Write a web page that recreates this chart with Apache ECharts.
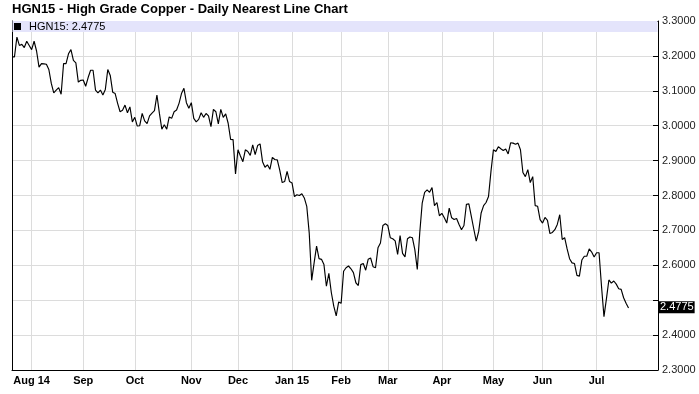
<!DOCTYPE html>
<html>
<head>
<meta charset="utf-8">
<script src="https://cdn.jsdelivr.net/npm/echarts@6/dist/echarts.min.js"></script>
<style>html,body{margin:0;padding:0;background:#fff}#c{width:699px;height:394px}</style>
</head>
<body>
<div id="c"></div>
<script>
const chartTitle = 'HGN15 - High Grade Copper - Daily Nearest Line Chart';
const seriesName = 'HGN15';
// Daily nearest close, one value per trading day from 2014-07-22 to 2015-07-21
const prices = [
  3.197,3.197,3.254,3.230,3.233,3.224,3.242,3.230,3.218,3.242,
  3.214,3.168,3.178,3.177,3.176,3.161,3.121,3.094,3.102,3.109,
  3.090,3.178,3.178,3.206,3.218,3.187,3.180,3.125,3.130,3.131,
  3.113,3.138,3.159,3.159,3.102,3.094,3.102,3.088,3.104,3.161,
  3.144,3.096,3.092,3.064,3.040,3.044,3.059,3.037,3.054,3.011,
  3.024,2.999,3.000,3.035,3.014,3.006,3.028,3.036,3.043,3.088,
  3.036,2.990,3.003,2.990,3.025,3.021,3.040,3.045,3.064,3.092,
  3.107,3.066,3.050,3.066,3.021,3.011,3.018,3.037,3.024,3.035,
  3.028,2.997,3.047,3.040,3.005,3.047,3.024,3.034,3.007,2.961,
  2.960,2.862,2.931,2.913,2.897,2.931,2.926,2.915,2.945,2.917,
  2.943,2.948,2.897,2.881,2.888,2.875,2.909,2.903,2.902,2.873,
  2.837,2.840,2.869,2.840,2.836,2.797,2.802,2.800,2.805,2.793,
  2.769,2.693,2.557,2.607,2.655,2.619,2.617,2.602,2.540,2.577,
  2.522,2.483,2.455,2.495,2.491,2.583,2.593,2.598,2.590,2.579,
  2.550,2.542,2.602,2.605,2.586,2.617,2.621,2.596,2.593,2.650,
  2.664,2.714,2.719,2.714,2.679,2.676,2.670,2.631,2.685,2.634,
  2.624,2.676,2.681,2.679,2.645,2.588,2.693,2.778,2.809,2.816,
  2.809,2.823,2.771,2.780,2.742,2.749,2.736,2.721,2.764,2.736,
  2.731,2.734,2.717,2.702,2.714,2.775,2.776,2.740,2.704,2.669,
  2.697,2.750,2.771,2.780,2.797,2.869,2.931,2.926,2.940,2.934,
  2.929,2.933,2.919,2.951,2.950,2.947,2.950,2.931,2.866,2.854,
  2.874,2.837,2.854,2.771,2.769,2.731,2.721,2.737,2.729,2.691,
  2.694,2.702,2.717,2.745,2.674,2.679,2.647,2.619,2.607,2.605,
  2.571,2.569,2.615,2.626,2.626,2.647,2.638,2.624,2.636,2.636,
  2.540,2.453,2.504,2.558,2.549,2.555,2.546,2.533,2.531,2.507,
  2.491,2.4775
];
const startDate = '2014-07-22';
const totalSessions = 264;
const holidays = ['2014-09-01','2014-11-27','2014-12-25','2015-01-01','2015-01-19','2015-02-16','2015-04-03','2015-05-25','2015-07-03'];
const monthTickLabels = ['Jan 15','Feb','Mar','Apr','May','Jun','Jul','Aug 14','Sep','Oct','Nov','Dec'];
const yTicks = {min: 2.3, max: 3.3, step: 0.1};

// trading-day categories
const dates = [];
{
  let d = new Date(startDate + 'T00:00:00Z');
  while (dates.length < totalSessions) {
    const s = d.toISOString().slice(0, 10);
    const wd = d.getUTCDay();
    if (wd !== 0 && wd !== 6 && holidays.indexOf(s) < 0) dates.push(s);
    d = new Date(d.getTime() + 86400000);
  }
}
const labelAt = {};
for (let i = 1; i < prices.length; i++) {
  const m = dates[i].slice(5, 7), pm = dates[i - 1].slice(5, 7);
  if (m !== pm) labelAt[i] = monthTickLabels[parseInt(m, 10) - 1];
}
const isMonthStart = (idx) => labelAt[idx] !== undefined;
const lastPrice = prices[prices.length - 1];

const chart = echarts.init(document.getElementById('c'), null, {renderer: 'canvas'});
const FONT = '"Liberation Sans", Arial, Helvetica, sans-serif';
chart.setOption({
  animation: false,
  backgroundColor: '#fff',
  textStyle: {fontFamily: FONT},
  title: {
    text: chartTitle, left: 9, top: 1, padding: [2, 3],
    textStyle: {fontFamily: FONT, fontSize: 13, fontWeight: 'bold', color: '#000'}
  },
  grid: {left: 12, right: 41, top: 21, bottom: 24, containLabel: false},
  xAxis: {
    type: 'category', data: dates, boundaryGap: false,
    axisLine: {show: true, lineStyle: {color: '#000', width: 1}},
    axisTick: {show: false},
    axisLabel: {
      interval: (idx) => isMonthStart(idx),
      formatter: (v, idx) => labelAt[idx] || '',
      fontFamily: FONT, fontSize: 11, fontWeight: 'bold', color: '#000', margin: 5
    },
    splitLine: {show: true, interval: (idx) => isMonthStart(idx), lineStyle: {color: '#dcdcdc', width: 1}}
  },
  yAxis: [{
    type: 'value', position: 'right', min: yTicks.min, max: yTicks.max, interval: yTicks.step,
    axisLine: {show: true, lineStyle: {color: '#000', width: 1}},
    axisTick: {show: true, inside: true, length: 5, lineStyle: {color: '#000'}},
    axisLabel: {
      formatter: (v) => Math.abs(v - 2.5) < 1e-6 ? '' : v.toFixed(4),
      fontFamily: FONT, fontSize: 11, color: '#222', margin: 4
    },
    splitLine: {show: true, lineStyle: {color: '#dcdcdc', width: 1}}
  }, {
    type: 'value', position: 'left', min: yTicks.min, max: yTicks.max,
    axisLine: {show: true, lineStyle: {color: '#000', width: 1}},
    axisTick: {show: false}, axisLabel: {show: false}, splitLine: {show: false}
  }],
  graphic: [
    {type: 'rect', left: 12.5, top: 21, shape: {width: 645, height: 11}, style: {fill: '#e4e4fb'}, z: 1},
    {type: 'rect', left: 14, top: 23, shape: {width: 7, height: 7}, style: {fill: '#000'}, z: 2},
    {type: 'text', left: 29, top: 21, style: {text: seriesName + ': ' + lastPrice.toFixed(4), font: '11px ' + FONT, fill: '#000'}, z: 2}
  ],
  series: [{
    type: 'line', name: seriesName, data: prices, yAxisIndex: 0,
    showSymbol: false, symbol: 'none',
    lineStyle: {color: '#000', width: 1.15},
    z: 5,
    markLine: {
      silent: true, symbol: 'none',
      lineStyle: {color: 'rgba(0,0,0,0)', width: 1, type: 'solid'},
      label: {
        show: true, position: 'end', distance: 1,
        formatter: () => lastPrice.toFixed(4),
        backgroundColor: '#000', color: '#fff', fontFamily: FONT, fontSize: 11,
        padding: [1, 1, 0, 1]
      },
      data: [{yAxis: lastPrice}]
    }
  }]
});
</script>
</body>
</html>
